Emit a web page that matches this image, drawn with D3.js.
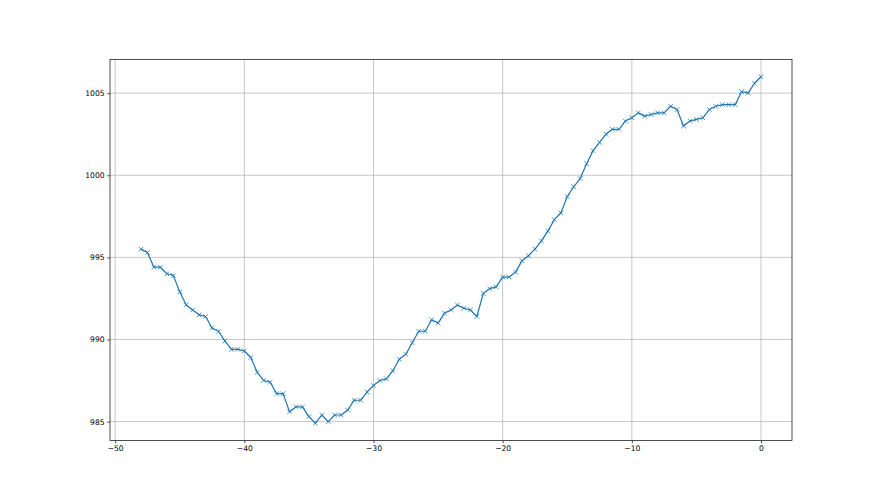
<!DOCTYPE html>
<html>
<head>
<meta charset="utf-8">
<script src="https://cdn.jsdelivr.net/npm/d3@7"></script>
<style>
  body { margin: 0; background: #fff; }
  svg { display: block; }
  .tick text { font-family: "DejaVu Sans", sans-serif; font-size: 7.6px; fill: #000; }
</style>
</head>
<body>
<div id="chart"></div>
<script>
// hours before now
var hours = [-48, -47.5, -47, -46.5, -46, -45.5, -45, -44.5, -44, -43.5, -43, -42.5,
  -42, -41.5, -41, -40.5, -40, -39.5, -39, -38.5, -38, -37.5, -37, -36.5,
  -36, -35.5, -35, -34.5, -34, -33.5, -33, -32.5, -32, -31.5, -31, -30.5,
  -30, -29.5, -29, -28.5, -28, -27.5, -27, -26.5, -26, -25.5, -25, -24.5,
  -24, -23.5, -23, -22.5, -22, -21.5, -21, -20.5, -20, -19.5, -19, -18.5,
  -18, -17.5, -17, -16.5, -16, -15.5, -15, -14.5, -14, -13.5, -13, -12.5,
  -12, -11.5, -11, -10.5, -10, -9.5, -9, -8.5, -8, -7.5, -7, -6.5,
  -6, -5.5, -5, -4.5, -4, -3.5, -3, -2.5, -2, -1.5, -1, -0.5, 0];

// pressure
var pressure = [995.5, 995.3, 994.4, 994.4, 994.0, 993.9, 992.9, 992.1, 991.8, 991.5, 991.4, 990.7,
  990.5, 989.9, 989.4, 989.4, 989.3, 988.9, 988.0, 987.5, 987.4, 986.7, 986.7, 985.6,
  985.9, 985.9, 985.3, 984.9, 985.4, 985.0, 985.4, 985.4, 985.7, 986.3, 986.3, 986.8,
  987.2, 987.5, 987.6, 988.1, 988.8, 989.1, 989.8, 990.5, 990.5, 991.2, 991.0, 991.6,
  991.8, 992.1, 991.9, 991.8, 991.4, 992.8, 993.1, 993.2, 993.8, 993.8, 994.1, 994.8,
  995.1, 995.5, 996.0, 996.6, 997.3, 997.7, 998.7, 999.3, 999.8, 1000.7, 1001.5, 1002.0,
  1002.5, 1002.8, 1002.8, 1003.3, 1003.5, 1003.8, 1003.6, 1003.7, 1003.8, 1003.8, 1004.2, 1004.0,
  1003.0, 1003.3, 1003.4, 1003.5, 1004.0, 1004.2, 1004.3, 1004.3, 1004.3, 1005.1, 1005.0, 1005.6, 1006.0];

var xTicks = [-50, -40, -30, -20, -10, 0];
var yTicks = [985, 990, 995, 1000, 1005];

var W = 880, H = 495;
var margin = {top: 59.4, right: 88, bottom: 54.45, left: 110},
    width = W - margin.left - margin.right,
    height = H - margin.top - margin.bottom;

var data = hours.map(function(h, i) { return {h: h, p: pressure[i]}; });

// matplotlib-style 5% padding
var xr = d3.extent(hours), yr = d3.extent(pressure);
var xp = (xr[1] - xr[0]) * 0.05, yp = (yr[1] - yr[0]) * 0.05;

var x = d3.scaleLinear().domain([xr[0] - xp, xr[1] + xp]).range([0, width]);
var y = d3.scaleLinear().domain([yr[0] - yp, yr[1] + yp]).range([height, 0]);

var svg = d3.select("#chart").append("svg")
    .attr("width", W)
    .attr("height", H)
  .append("g")
    .attr("transform", "translate(" + margin.left + "," + margin.top + ")");

// grid
svg.append("g").selectAll("line").data(xTicks).enter().append("line")
    .attr("x1", function(d) { return x(d); }).attr("x2", function(d) { return x(d); })
    .attr("y1", 0).attr("y2", height)
    .attr("stroke", "#b0b0b0").attr("stroke-width", 0.7);
svg.append("g").selectAll("line").data(yTicks).enter().append("line")
    .attr("y1", function(d) { return y(d); }).attr("y2", function(d) { return y(d); })
    .attr("x1", 0).attr("x2", width)
    .attr("stroke", "#b0b0b0").attr("stroke-width", 0.7);

// line
var line = d3.line()
    .x(function(d) { return x(d.h); })
    .y(function(d) { return y(d.p); });
svg.append("path")
    .datum(data)
    .attr("fill", "none")
    .attr("stroke", "#1f77b4")
    .attr("stroke-width", 1.2)
    .attr("stroke-linejoin", "round")
    .attr("d", line);

// x markers
var m = 2.3;
svg.append("g").selectAll("path").data(data).enter().append("path")
    .attr("d", function(d) {
      var cx = x(d.h), cy = y(d.p);
      return "M" + (cx - m) + "," + (cy - m) + "L" + (cx + m) + "," + (cy + m) +
             "M" + (cx - m) + "," + (cy + m) + "L" + (cx + m) + "," + (cy - m);
    })
    .attr("stroke", "#1f77b4")
    .attr("stroke-width", 0.8);

// axes
var xAxis = svg.append("g")
    .attr("transform", "translate(0," + height + ")")
    .call(d3.axisBottom(x).tickValues(xTicks).tickSize(2.7).tickPadding(2.7)
      .tickFormat(function(d) { return d < 0 ? "\u2212" + (-d) : d; }));
var yAxis = svg.append("g")
    .call(d3.axisLeft(y).tickValues(yTicks).tickSize(2.7).tickPadding(2.7).tickFormat(d3.format("d")));
[xAxis, yAxis].forEach(function(a) {
  a.select(".domain").remove();
  a.selectAll(".tick line").attr("stroke", "#000").attr("stroke-width", 0.7);
});

// spines
svg.append("rect")
    .attr("width", width).attr("height", height)
    .attr("fill", "none").attr("stroke", "#222").attr("stroke-width", 0.8);
</script>
</body>
</html>
